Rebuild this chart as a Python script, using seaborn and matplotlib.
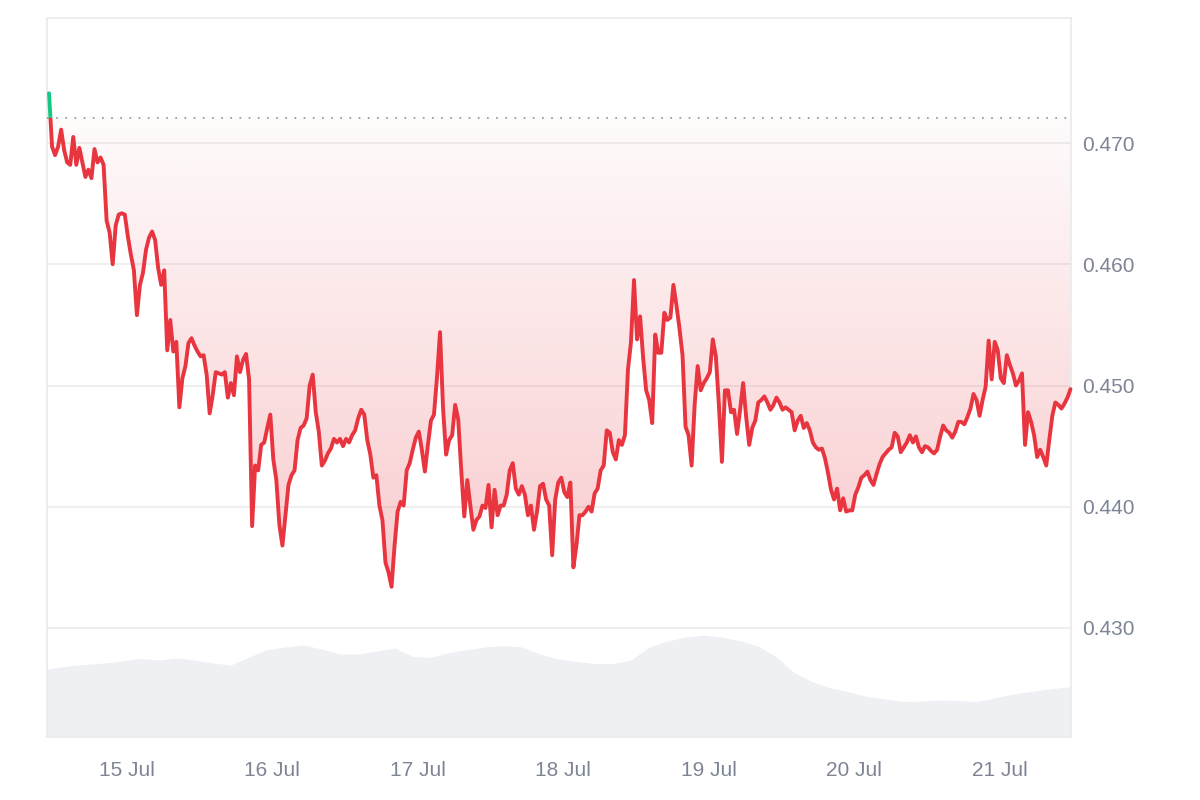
import numpy as np
import pandas as pd
import matplotlib
matplotlib.use('Agg')
import matplotlib.pyplot as plt
import matplotlib.dates as mdates
from matplotlib.path import Path
from matplotlib.patches import Rectangle
from matplotlib.colors import to_rgb
from matplotlib.ticker import FormatStrFormatter
import seaborn as sns

# price every 30 min, 14 Jul 11:10 -> 21 Jul 11:40
prices = [
    0.4741, 0.4697, 0.4690, 0.4697, 0.4711, 0.4694, 0.4684, 0.4682, 0.4705, 0.4682,
    0.4696, 0.4684, 0.4672, 0.4678, 0.4671, 0.4695, 0.4684, 0.4688, 0.4682, 0.4636,
    0.4626, 0.4600, 0.4632, 0.4641, 0.4642, 0.4641, 0.4623, 0.4608, 0.4595, 0.4558,
    0.4583, 0.4593, 0.4612, 0.4622, 0.4627, 0.4620, 0.4597, 0.4583, 0.4595, 0.4529,
    0.4554, 0.4528, 0.4536, 0.4482, 0.4506, 0.4516, 0.4535, 0.4539, 0.4533, 0.4528,
    0.4524, 0.4525, 0.4509, 0.4477, 0.4492, 0.4511, 0.4510, 0.4509, 0.4511, 0.4490,
    0.4502, 0.4492, 0.4524, 0.4511, 0.4521, 0.4526, 0.4505, 0.4384, 0.4434, 0.4430,
    0.4451, 0.4453, 0.4465, 0.4476, 0.4439, 0.4422, 0.4385, 0.4368, 0.4393, 0.4418,
    0.4426, 0.4430, 0.4455, 0.4465, 0.4467, 0.4473, 0.4500, 0.4509, 0.4478, 0.4462,
    0.4434, 0.4438, 0.4444, 0.4448, 0.4456, 0.4453, 0.4456, 0.4450, 0.4456, 0.4453,
    0.4459, 0.4463, 0.4473, 0.4480, 0.4476, 0.4455, 0.4443, 0.4424, 0.4426, 0.4401,
    0.4389, 0.4354, 0.4346, 0.4334, 0.4368, 0.4396, 0.4404, 0.4401, 0.4430, 0.4436,
    0.4447, 0.4457, 0.4462, 0.4447, 0.4429, 0.4451, 0.4471, 0.4476, 0.4507, 0.4544,
    0.4481, 0.4443, 0.4455, 0.4459, 0.4484, 0.4472, 0.4430, 0.4392, 0.4422, 0.4401,
    0.4381, 0.4389, 0.4392, 0.4401, 0.4399, 0.4418, 0.4383, 0.4414, 0.4393, 0.4401,
    0.4401, 0.4410, 0.4430, 0.4436, 0.4415, 0.4410, 0.4417, 0.4410, 0.4393, 0.4401,
    0.4381, 0.4396, 0.4417, 0.4419, 0.4406, 0.4401, 0.4360, 0.4406, 0.4420, 0.4424,
    0.4412, 0.4408, 0.4420, 0.4350, 0.4368, 0.4393, 0.4393, 0.4396, 0.4400, 0.4396,
    0.4411, 0.4415, 0.4430, 0.4434, 0.4463, 0.4461, 0.4445, 0.4439, 0.4455, 0.4451,
    0.4459, 0.4513, 0.4536, 0.4587, 0.4538, 0.4557, 0.4523, 0.4496, 0.4488, 0.4469,
    0.4542, 0.4527, 0.4527, 0.4560, 0.4554, 0.4556, 0.4583, 0.4566, 0.4547, 0.4525,
    0.4466, 0.4459, 0.4434, 0.4484, 0.4516, 0.4496, 0.4502, 0.4506, 0.4511, 0.4538,
    0.4524, 0.4484, 0.4437, 0.4496, 0.4496, 0.4478, 0.4480, 0.4460, 0.4480, 0.4502,
    0.4474, 0.4451, 0.4465, 0.4471, 0.4486, 0.4488, 0.4491, 0.4486, 0.4480, 0.4484,
    0.4490, 0.4486, 0.4480, 0.4482, 0.4480, 0.4478, 0.4463, 0.4471, 0.4475, 0.4465,
    0.4469, 0.4463, 0.4453, 0.4449, 0.4447, 0.4448, 0.4440, 0.4428, 0.4414, 0.4406,
    0.4415, 0.4397, 0.4407, 0.4396, 0.4397, 0.4397, 0.4410, 0.4416, 0.4424, 0.4426,
    0.4429, 0.4422, 0.4418, 0.4427, 0.4435, 0.4441, 0.4444, 0.4447, 0.4449, 0.4461,
    0.4458, 0.4445, 0.4449, 0.4453, 0.4459, 0.4453, 0.4458, 0.4449, 0.4445, 0.4450,
    0.4449, 0.4446, 0.4444, 0.4447, 0.4458, 0.4467, 0.4463, 0.4461, 0.4457, 0.4462,
    0.4470, 0.4470, 0.4468, 0.4474, 0.4481, 0.4493, 0.4488, 0.4475, 0.4488, 0.4499,
    0.4537, 0.4505, 0.4536, 0.4529, 0.4506, 0.4502, 0.4525, 0.4517, 0.4510, 0.4500,
    0.4504, 0.4510, 0.4451, 0.4478, 0.4470, 0.4459, 0.4441, 0.4447, 0.4441, 0.4434,
    0.4455, 0.4475, 0.4486, 0.4484, 0.4481, 0.4485, 0.4490, 0.4497,
]

# volume every 3 h (relative, millions)
volume = [
    68, 71, 72.5, 74, 76, 78.5, 77, 79, 77, 74,
    72, 80, 87.5, 90, 92, 88, 83, 83, 86, 89,
    80.5, 79.5, 84.5, 87.5, 90, 91.5, 90, 83, 78, 75.5,
    73.5, 73.5, 77, 90, 96, 100, 102, 100, 96, 91,
    80, 64, 55, 49, 45, 40.5, 38, 35.5, 36, 37,
    36.5, 35.5, 39, 43, 45.5, 48, 50,
]

open_price = 0.4721
y_ticks = [0.430, 0.440, 0.450, 0.460, 0.470]

RED = '#e8353f'
GREEN = '#16c784'
TEXT = '#7d8595'

times = pd.date_range('2024-07-14 11:10', periods=len(prices), freq='30min')
vol_times = pd.date_range('2024-07-14 11:10', periods=len(volume), freq='3h')
x_left = pd.Timestamp('2024-07-14 10:50')
x_right = pd.Timestamp('2024-07-21 11:45')

sns.set_theme(style='white')
plt.rcParams['font.family'] = ['Liberation Sans', 'DejaVu Sans']

fig = plt.figure(figsize=(12, 8), dpi=100)
ax = fig.add_axes([47 / 1200, 63 / 800, 1024 / 1200, 719 / 800])

# volume in the back, stretched to the plot edges
axv = ax.twinx()
vt = [x_left] + list(vol_times) + [x_right]
vv = [volume[0]] + volume + [volume[-1]]
axv.fill_between(vt, vv, 0, color='#eef0f4', lw=0)
axv.set_ylim(0, max(volume) * 7.05)
axv.set_axis_off()
axv.set_zorder(1)
ax.set_zorder(2)
ax.patch.set_visible(False)

t_num = mdates.date2num(times)
p = np.array(prices)

# gradient fill between line and the opening price
poly = ax.fill_between(t_num, p, open_price, where=p <= open_price,
                       interpolate=True, facecolor='none', edgecolor='none')
clip = Path.make_compound_path(*poly.get_paths())
grad = np.zeros((256, 1, 4))
grad[..., :3] = to_rgb(RED)
grad[:, 0, 3] = np.linspace(0.26, 0.02, 256)
im = ax.imshow(grad, extent=[t_num[0], t_num[-1], p.min(), open_price],
               origin='lower', aspect='auto', zorder=1, interpolation='bilinear')
im.set_clip_path(clip, transform=ax.transData)

ax.axhline(open_price, color='#8a8f98', lw=1.2, ls=(0, (1, 4.5)), zorder=3)

sns.lineplot(x=times, y=prices, ax=ax, color=RED, linewidth=2.8, zorder=4)
below = Rectangle((t_num[0] - 1, 0), 20, open_price, transform=ax.transData)
ax.lines[-1].set_clip_path(below)
green_line, = ax.plot(times, prices, color=GREEN, lw=2.8, zorder=5)
above = Rectangle((t_num[0] - 1, open_price), 20, 1, transform=ax.transData)
green_line.set_clip_path(above)

ax.set_xlim(x_left, x_right)
ax.set_ylim(0.42101, 0.48031)
ax.set_yticks(y_ticks)
ax.yaxis.tick_right()
ax.yaxis.set_major_formatter(FormatStrFormatter('%.3f'))
ax.xaxis.set_major_locator(mdates.DayLocator())
ax.xaxis.set_major_formatter(mdates.DateFormatter('%d %b'))
ax.yaxis.grid(True, color='#eeeeee', lw=1.3)
ax.xaxis.grid(False)
ax.set_axisbelow(True)
ax.tick_params(axis='y', length=0, pad=8, labelsize=15, colors=TEXT)
ax.tick_params(axis='x', length=0, pad=17, labelsize=15, colors=TEXT)
ax.set_xlabel('')
ax.set_ylabel('')
for s in ax.spines.values():
    s.set_color('#e8eaee')
    s.set_linewidth(1.2)

fig.savefig('out.png', dpi=100)
